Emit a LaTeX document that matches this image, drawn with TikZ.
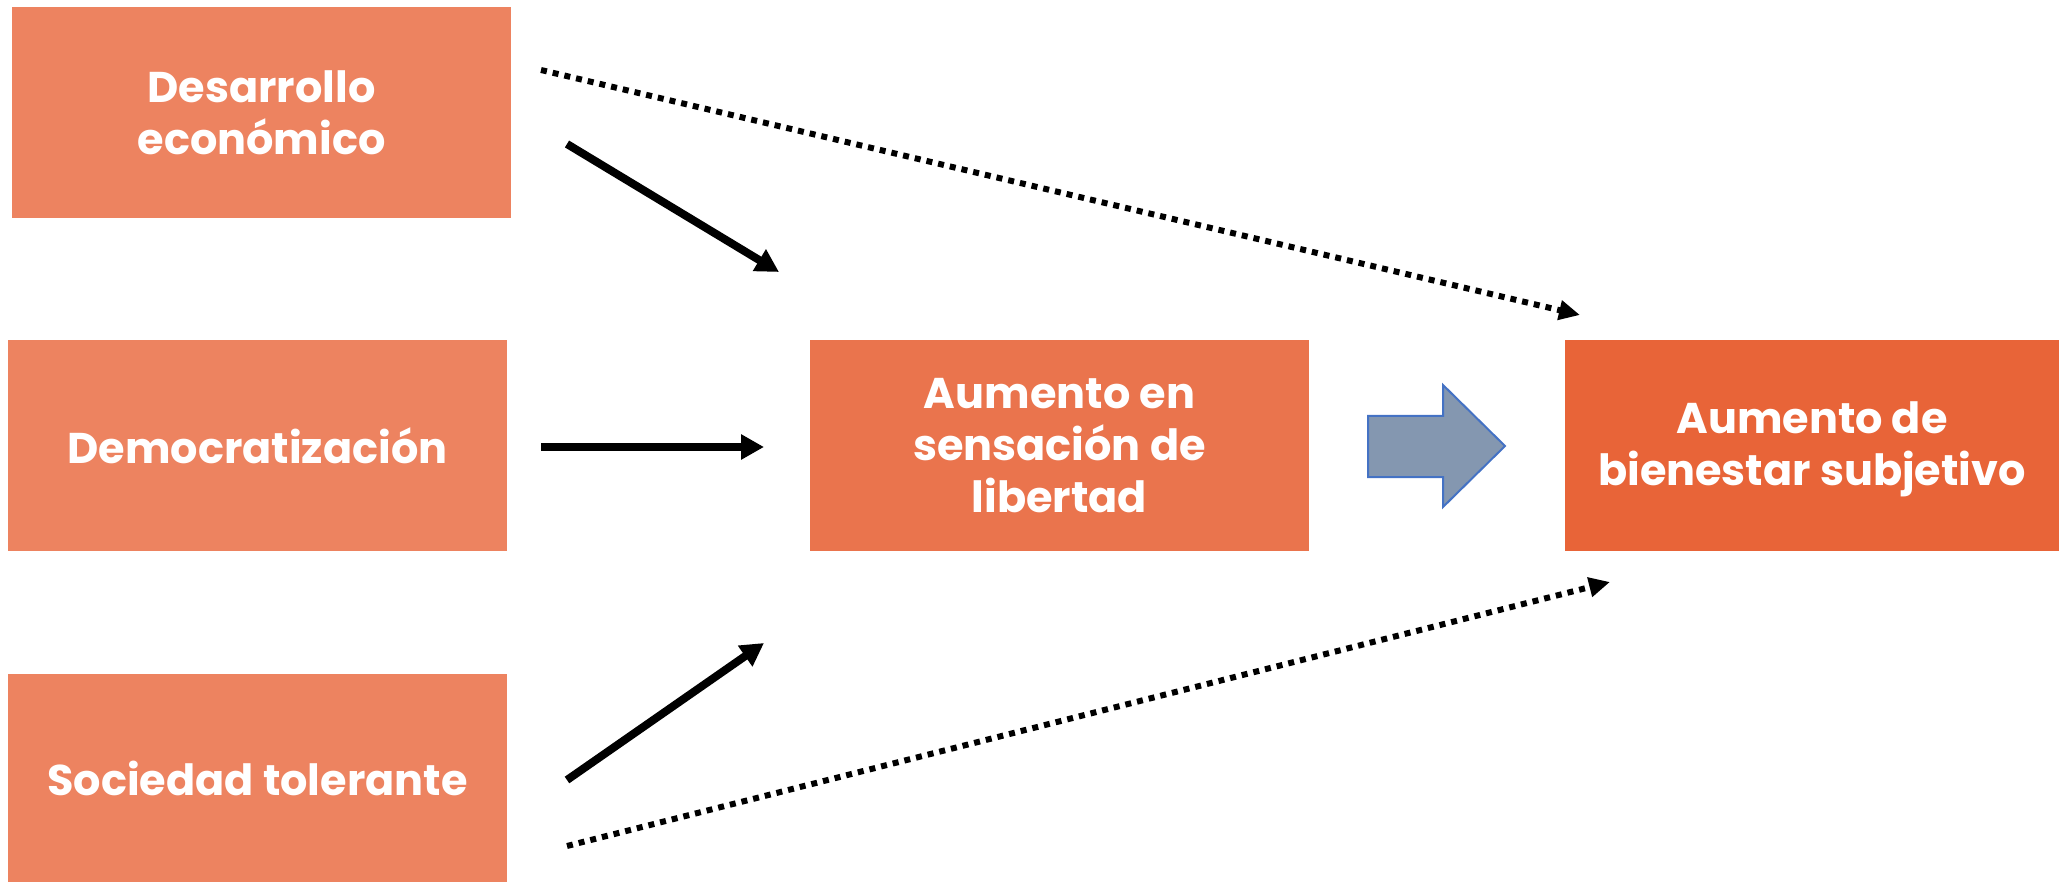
\documentclass[tikz,border=0pt]{standalone}
\usepackage{fontspec}
\setmainfont{Poppins}
\usetikzlibrary{arrows.meta}
\definecolor{boxA}{RGB}{237,131,96}
\definecolor{boxB}{RGB}{234,116,77}
\definecolor{boxC}{RGB}{232,100,56}
\definecolor{barrowfill}{RGB}{132,151,176}
\definecolor{barrowline}{RGB}{68,114,196}
\tikzset{
  box/.style={rectangle, inner sep=0pt, outer sep=0pt, text=white, align=center,
    font=\fontsize{43}{52}\selectfont\bfseries},
  solidarrow/.style={line width=8pt, -{Triangle[length=23pt,width=24pt]}},
  dotarrow/.style={line width=6pt, dash pattern=on 6pt off 6pt, -{Triangle[length=21pt,width=19pt]}},
}
\begin{document}
\begin{tikzpicture}[x=1pt,y=-1pt]
\useasboundingbox (0,0) rectangle (2059,882);
\node[box, fill=boxA, minimum width=499pt, minimum height=211pt] (des) at (261.5,112.5) {Desarrollo\\econ\'omico};
\node[box, fill=boxA, minimum width=499pt, minimum height=211pt] (dem) at (257.5,445.5) {Democratizaci\'on};
\node[box, fill=boxA, minimum width=499pt, minimum height=208pt] (soc) at (257.5,778) {Sociedad tolerante};
\node[box, fill=boxB, minimum width=499pt, minimum height=211pt] (lib) at (1059.5,445.5) {Aumento en\\sensaci\'on de\\libertad};
\node[box, fill=boxC, minimum width=494pt, minimum height=211pt] (bien) at (1812,445.5) {};
\node[box] (bientext) at (1812,449) {Aumento de\\bienestar subjetivo};
% block arrow
\draw[fill=barrowfill, draw=barrowline, line width=2pt, line join=miter]
  (1368,416) -- (1443,416) -- (1443,385) -- (1505,446) -- (1443,507) -- (1443,477) -- (1368,477) -- cycle;
% connector end points
\coordinate (s1a) at (567,144); \coordinate (s1b) at (779,272);
\coordinate (s2a) at (541,447); \coordinate (s2b) at (764,447);
\coordinate (s3a) at (567,780); \coordinate (s3b) at (764,643);
\coordinate (d1a) at (541,70);  \coordinate (d1b) at (1580,315);
\coordinate (d2a) at (567,846); \coordinate (d2b) at (1610,582);
\draw[solidarrow] (s1a) -- (s1b);
\draw[solidarrow] (s2a) -- (s2b);
\draw[solidarrow] (s3a) -- (s3b);
\draw[dotarrow] (d1a) -- (d1b);
\draw[dotarrow] (d2a) -- (d2b);
\end{tikzpicture}
\end{document}
